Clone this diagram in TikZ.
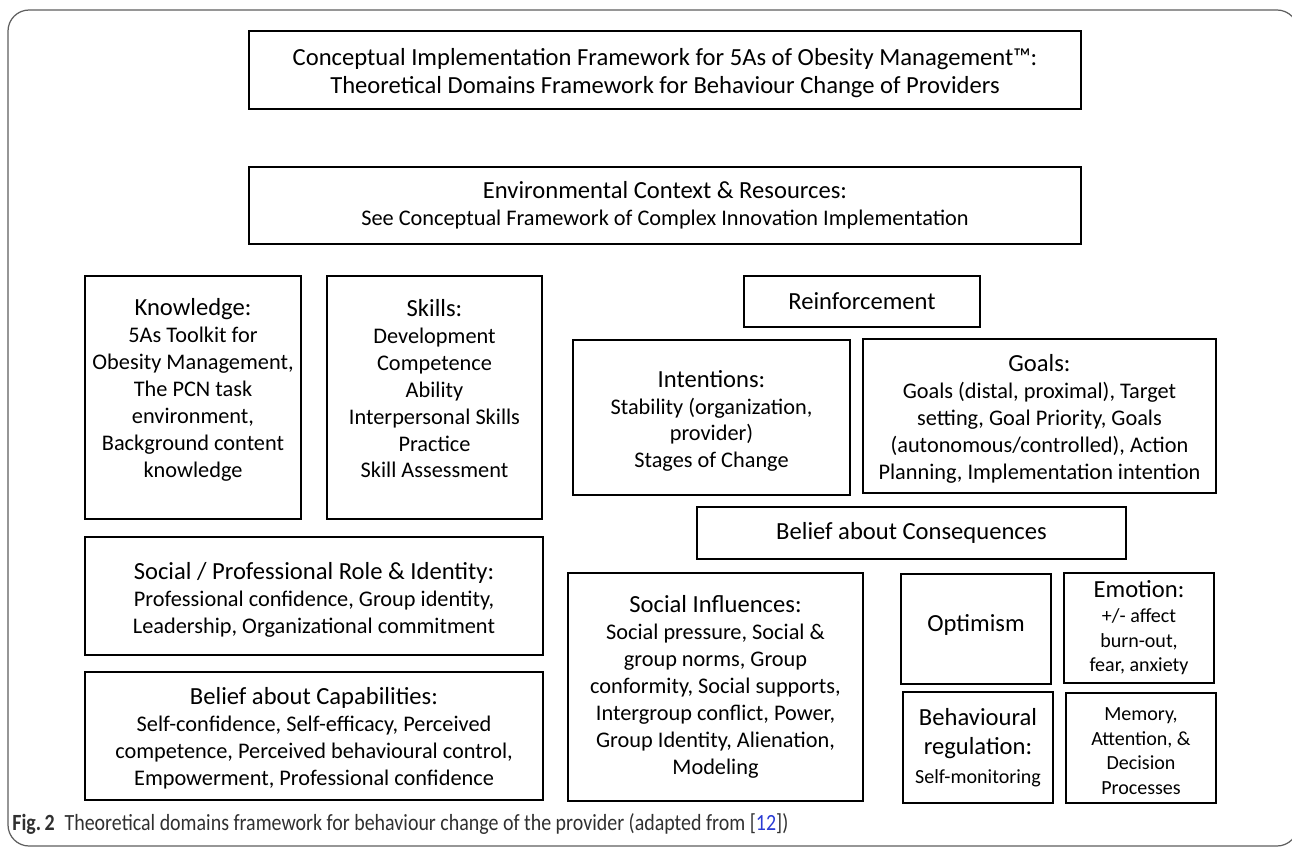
\documentclass[tikz,border=0pt]{standalone}
\usepackage{fontspec}
\usepackage{graphicx}
\setmainfont{Carlito}

\definecolor{framegray}{HTML}{5E5E5E}
\definecolor{captext}{HTML}{303030}
\definecolor{citeblue}{HTML}{2A3BD4}

\newcommand{\hd}{\fontsize{14}{16.5}\selectfont}
\newcommand{\sm}{\fontsize{11.4}{14}\selectfont}
\newcommand{\lowr}[1]{\rule{0pt}{#1}}% taller first line, pushes text down

\tikzset{
  tdbox/.style={draw, line width=1.6pt, align=center, inner sep=1pt,
    font=\fontsize{12.7}{15.3}\selectfont},
  boxsize/.style 2 args={minimum width=#1*0.02cm, minimum height=#2*0.02cm},
}

\begin{document}
\begin{tikzpicture}[x=0.02cm, y=-0.02cm]
  \useasboundingbox (0,0) rectangle (1292,848);
  % outer frame
  \draw[framegray, line width=0.7pt, rounded corners=12] (8,10) rectangle (1298,846);

  % top row
  \node[tdbox, boxsize={832}{78}, font=\fontsize{14}{15.9}\selectfont] (title) at (665,70)
    {\lowr{13.5pt}Conceptual Implementation Framework for 5As of Obesity Management\texttrademark:\\
     Theoretical Domains Framework for Behaviour Change of Providers};
  \node[tdbox, boxsize={832}{77}] (env) at (665,205.5)
    {{\hd Environmental Context \& Resources:}\\
     See Conceptual Framework of Complex Innovation Implementation};

  % left column
  \node[tdbox, boxsize={216}{243}, text depth=11pt] (knowledge) at (193,397.5)
    {{\hd Knowledge:}\\ 5As Toolkit for\\ Obesity Management,\\ The PCN task\\
     environment,\\ Background content\\ knowledge};
  \node[tdbox, boxsize={215}{243}, text depth=10pt] (skills) at (434.5,397.5)
    {{\hd Skills:}\\ Development\\ Competence\\ Ability\\ Interpersonal Skills\\
     Practice\\ Skill Assessment};
  \node[tdbox, boxsize={458}{118}] (role) at (314,596)
    {{\hd\lowr{14.5pt}Social / Professional Role \& Identity:}\\
     Professional confidence, Group identity,\\
     Leadership, Organizational commitment};
  \node[tdbox, boxsize={458}{128}] (capab) at (314,736)
    {{\hd\lowr{12pt}Belief about Capabilities:}\\
     Self-confidence, Self-efficacy, Perceived\\
     competence, Perceived behavioural control,\\
     Empowerment, Professional confidence};

  % right column
  \node[tdbox, boxsize={236}{51}, font=\hd] (reinf) at (862,301.5) {Reinforcement};
  \node[tdbox, boxsize={277}{155}] (intent) at (711.5,417.5)
    {{\hd\lowr{13.5pt}Intentions:}\\ Stability (organization,\\ provider)\\ Stages of Change};
  \node[tdbox, boxsize={353}{154}] (goals) at (1039.5,416)
    {{\hd\lowr{13pt}Goals:}\\ Goals (distal, proximal), Target\\ setting, Goal Priority, Goals\\
     (autonomous/controlled), Action\\ Planning, Implementation intention};
  \node[tdbox, boxsize={429}{52}, font=\hd] (conseq) at (911.5,533)
    {Belief about Consequences};
  \node[tdbox, boxsize={295}{228}] (influ) at (715.5,687)
    {{\hd Social Influences:}\\ Social pressure, Social \&\\ group norms, Group\\
     conformity, Social supports,\\ Intergroup conflict, Power,\\
     Group Identity, Alienation,\\ Modeling};
  \node[tdbox, boxsize={150}{110}, font=\hd, text depth=7.3pt] (optim) at (976,629) {Optimism};
  \node[tdbox, boxsize={150}{110}, font=\sm] (emotion) at (1139,628)
    {{\hd Emotion:}\\ +/- affect\\ burn-out,\\ fear, anxiety};
  \node[tdbox, boxsize={150}{111}, font=\hd] (regul) at (978,747.5)
    {Behavioural\\ regulation:\\ {\sm Self-monitoring}};
  \node[tdbox, boxsize={150}{110}, font=\sm] (memory) at (1141,748)
    {\lowr{11pt}Memory,\\ Attention, \&\\ Decision\\ Processes};

  % caption
  \node[anchor=base west, inner sep=0pt, text=captext, font=\fontsize{13.2}{15}\selectfont]
    (caption) at (12,830)
    {\scalebox{0.86}[1]{\textbf{Fig.\,2}\enspace Theoretical domains framework for behaviour
     change of the provider (adapted from [\textcolor{citeblue}{12}])}};
\end{tikzpicture}
\end{document}
